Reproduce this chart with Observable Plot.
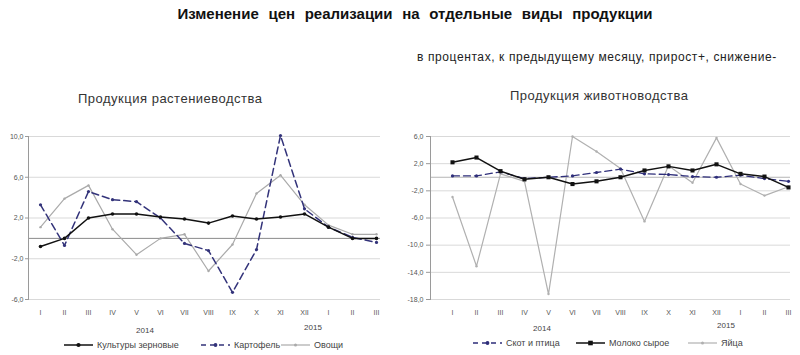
<!DOCTYPE html>
<html><head><meta charset="utf-8">
<script src="https://cdn.jsdelivr.net/npm/d3@7"></script>
<script src="https://cdn.jsdelivr.net/npm/@observablehq/plot@0.6"></script>
<style>
body{margin:0;background:#fff;font-family:"Liberation Sans",Arial,sans-serif;}
#root{position:relative;width:800px;height:355px;overflow:hidden;background:#fff;}
.t{position:absolute;white-space:nowrap;color:#222;line-height:1;}
.chart{position:absolute;}
.lg{position:absolute;display:flex;align-items:center;font-size:9px;color:#444;white-space:nowrap;}
.lg svg{margin-right:3px;}
</style></head><body><div id="root"></div>
<script>
// ---- data ----
const months = ["I","II","III","IV","V","VI","VII","VIII","IX","X","XI","XII","I","II","III"];
const years = ["2014","2015"];
const leftTicks = [-6,-2,2,6,10];
const rightTicks = [-18,-14,-10,-6,-2,2,6];

// Продукция растениеводства
const grain    = [-0.8, 0.0, 2.0, 2.4, 2.4, 2.1, 1.9, 1.5, 2.2, 1.9, 2.1, 2.4, 1.1, 0.0, 0.0];
const potato   = [ 3.3,-0.7, 4.6, 3.8, 3.6, 2.0,-0.5,-1.2,-5.3,-1.1,10.1, 2.9, 1.1, 0.1,-0.4];
const veg      = [ 1.1, 3.9, 5.2, 0.9,-1.6, 0.0, 0.4,-3.2,-0.6, 4.4, 6.2, 3.3, 1.3, 0.4, 0.4];
// Продукция животноводства
const cattle   = [ 0.2, 0.2, 0.8,-0.2, 0.0, 0.2, 0.7, 1.2, 0.5, 0.4, 0.1, 0.0, 0.3,-0.2,-0.6];
const milk     = [ 2.2, 2.9, 0.9,-0.3, 0.0,-1.0,-0.6, 0.0, 1.0, 1.6, 1.0, 1.9, 0.5, 0.1,-1.5];
const eggs     = [-2.9,-13.1, 0.5,-0.6,-17.2, 6.0, 3.8, 1.3,-6.5, 1.7,-0.8, 5.8,-1.0,-2.7,-1.4];

const leftNames  = ["Культуры зерновые","Картофель","Овощи"];
const rightNames = ["Скот и птица","Молоко сырое","Яйца"];

// ---- helpers ----
const keys = months.map((m,i) => (i < 12 ? years[0] : years[1]) + " " + m);
const rows = arr => arr.map((v,i) => ({key: keys[i], v}));
const fmt = d => d.toFixed(1).replace(".", ",");

const root = document.getElementById("root");
function text(str, x, y, size, opts = {}) {
  const d = document.createElement("div");
  d.className = "t";
  d.textContent = str;
  d.style.left = x + "px";
  d.style.top = y + "px";
  d.style.fontSize = size + "px";
  if (opts.bold) d.style.fontWeight = "bold";
  if (opts.color) d.style.color = opts.color;
  if (opts.center) d.style.transform = "translateX(-50%)";
  if (opts.ws) d.style.wordSpacing = opts.ws;
  if (opts.ls) d.style.letterSpacing = opts.ls;
  root.appendChild(d);
}

const styles = {
  grain:  {stroke:"#111", strokeWidth:1.5, dash:null, r:1.8},
  potato: {stroke:"#33337a", strokeWidth:1.5, dash:"7,4", r:1.6},
  veg:    {stroke:"#aaaaaa", strokeWidth:1.2, dash:null, r:1.2},
  cattle: {stroke:"#2e2e7a", strokeWidth:1.3, dash:"7,4", r:1.6},
  milk:   {stroke:"#111", strokeWidth:1.5, dash:null, r:2.3},
  eggs:   {stroke:"#b0b0b0", strokeWidth:1.2, dash:null, r:1.2}
};

function seriesMarks(arr, s) {
  return [
    Plot.line(rows(arr), {x:"key", y:"v", stroke:s.stroke, strokeWidth:s.strokeWidth, strokeDasharray:s.dash}),
    Plot.dot(rows(arr), {x:"key", y:"v", fill:s.stroke, r:s.r, symbol: s.r > 2 ? "square" : "circle"})
  ];
}

function chart({width, marginLeft, marginRight, padding, align, yDomain, ticks, zeroColor, series, tickSize, tickPadding}) {
  return Plot.plot({
    width, height: 205,
    marginLeft, marginRight, marginTop: 16, marginBottom: 26,
    style: {color:"#555", fontFamily:"Liberation Sans, Arial, sans-serif", background:"transparent"},
    x: {type:"point", domain: keys, padding, align, axis:null},
    y: {domain: yDomain, axis:null},
    marks: [
      Plot.gridY(ticks, {stroke:"#d9d9d9", strokeOpacity:1}),
      Plot.ruleY([0], {stroke: zeroColor}),
      Plot.frame({anchor:"left", stroke:"#9a9a9a"}),
      Plot.axisY(ticks, {tickFormat: fmt, tickSize, tickPadding, fontSize:7, stroke:"#9a9a9a", label:null}),
      Plot.axisX(keys, {tickSize:0, tickPadding:11, fontSize:7, tickFormat: k => k.split(" ")[1], label:null}),
      ...series.flatMap(([arr, s]) => seriesMarks(arr, s))
    ]
  });
}

// ---- titles ----
text("Изменение цен реализации на отдельные виды продукции", 415, 6, 15, {bold:true, center:true, color:"#111", ws:"5.5px"});
text("в процентах, к предыдущему месяцу, прирост+, снижение-", 417, 51, 12, {color:"#222", ls:"0.6px"});
text("Продукция растениеводства", 78, 92, 13, {color:"#333", ls:"0.5px"});
text("Продукция животноводства", 510, 89, 13, {color:"#333", ls:"0.5px"});

// ---- charts ----
const left = chart({
  width: 395, marginLeft: 28, marginRight: 15, padding: 0.318, align: 0.72,
  yDomain: [-6, 10], ticks: leftTicks, zeroColor: "#8a8a8a", tickSize: 3, tickPadding: 2,
  series: [[veg, styles.veg], [potato, styles.potato], [grain, styles.grain]]
});
left.classList.add("chart");
left.style.left = "0px"; left.style.top = "120px";
root.appendChild(left);

const right = chart({
  width: 400, marginLeft: 30, marginRight: 10, padding: 0.262, align: 0.92,
  yDomain: [-18, 6], ticks: rightTicks, zeroColor: "#b5b5b5", tickSize: 4, tickPadding: 3,
  series: [[eggs, styles.eggs], [cattle, styles.cattle], [milk, styles.milk]]
});
right.classList.add("chart");
right.style.left = "400px"; right.style.top = "120px";
root.appendChild(right);

// ---- year labels ----
text(years[0], 145, 327, 8, {center:true, color:"#444"});
text(years[1], 313, 324, 8, {center:true, color:"#444"});
text(years[0], 542, 325, 8, {center:true, color:"#444"});
text(years[1], 726, 322, 8, {center:true, color:"#444"});

// ---- legends ----
function legend(name, s, x, y) {
  const d = document.createElement("div");
  d.className = "lg";
  d.style.left = x + "px"; d.style.top = (y - 5) + "px";
  const ns = "http://www.w3.org/2000/svg";
  const svg = document.createElementNS(ns, "svg");
  svg.setAttribute("width", 31); svg.setAttribute("height", 10);
  const l = document.createElementNS(ns, "line");
  l.setAttribute("x1", 1); l.setAttribute("x2", 30); l.setAttribute("y1", 5); l.setAttribute("y2", 5);
  l.setAttribute("stroke", s.stroke); l.setAttribute("stroke-width", s.strokeWidth);
  if (s.dash) l.setAttribute("stroke-dasharray", "5,4");
  svg.appendChild(l);
  if (s.r > 2) {
    const q = document.createElementNS(ns, "rect");
    q.setAttribute("x", 15.5 - s.r); q.setAttribute("y", 5 - s.r);
    q.setAttribute("width", 2*s.r); q.setAttribute("height", 2*s.r); q.setAttribute("fill", s.stroke);
    svg.appendChild(q);
  } else {
    const c = document.createElementNS(ns, "circle");
    c.setAttribute("cx", 15.5); c.setAttribute("cy", 5); c.setAttribute("r", s.r + 0.3); c.setAttribute("fill", s.stroke);
    svg.appendChild(c);
  }
  d.appendChild(svg);
  const sp = document.createElement("span");
  sp.textContent = name;
  d.appendChild(sp);
  root.appendChild(d);
}
legend(leftNames[0], styles.grain, 63, 345);
legend(leftNames[1], styles.potato, 200, 345);
legend(leftNames[2], styles.veg, 280, 345);
legend(rightNames[0], styles.cattle, 472, 343);
legend(rightNames[1], styles.milk, 575, 343);
legend(rightNames[2], styles.eggs, 687, 343);
</script></body></html>
